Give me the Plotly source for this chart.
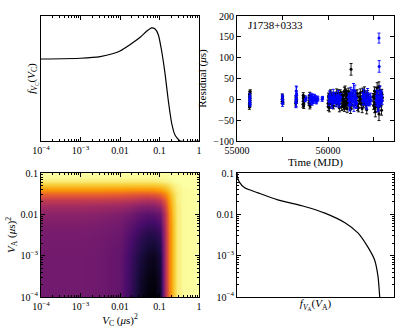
import numpy as np
import plotly.graph_objects as go

# ---------------- data ----------------
# top-left: f_VC(VC)
vc_vals = [1e-4, 1e-3, 3.16e-3, 6.8e-3, 0.01, 0.0178, 0.0324, 0.0479, 0.0631,
           0.0776, 0.0933, 0.112, 0.138, 0.166, 0.204, 0.245, 0.331, 1.0]
fvc_vals = [0.656, 0.662, 0.675, 0.70, 0.72, 0.77, 0.83, 0.88, 0.905,
            0.896, 0.85, 0.73, 0.54, 0.33, 0.14, 0.05, 0.0, 0.0]

# top-right: residuals
blk_mjd = [55138, 55140, 55141, 55143, 55145, 55139,
           55495, 55500, 55505,
           55645, 55650, 55655,
           55725, 55730, 55735, 55738,
           55790, 55795, 55800, 55810,
           56000, 56005, 56015, 56025, 56035, 56045, 56060, 56075, 56090, 56105, 56120, 56135,
           56150, 56160, 56170, 56180, 56190, 56200, 56210, 56220, 56230, 56240, 56253, 56262, 56270,
           56300, 56320, 56335, 56350, 56365, 56380, 56395, 56410, 56425, 56440,
           56500, 56510, 56520, 56530, 56540, 56550, 56560, 56570, 56580, 56590,
           56010, 56040, 56070, 56100, 56130, 56155, 56175, 56195, 56215, 56235, 56258,
           56310, 56330, 56360, 56390, 56430, 56505, 56525, 56545, 56565, 56585,
           56020, 56055, 56085, 56115, 56165, 56185, 56205, 56245, 56345, 56405, 56515, 56555, 56575,
           56003, 56028, 56048, 56068, 56095, 56125, 56145, 56168, 56188, 56208, 56228, 56248,
           56305, 56325, 56355, 56375, 56400, 56418, 56435, 56448, 56495, 56512, 56532, 56548, 56568, 56588, 56598,
           55136, 55142, 55498, 55728, 55733, 55798, 55805, 56180, 56200, 56520, 56560]
blk_res = [12, -15, 5, -3, 18, -8,
           -5, 3, -8,
           -10, 5, -4,
           -12, 2, -6, 4,
           -8, 3, -15, 6,
           -10, 8, -20, 12, -5, 3, -15, 10, -8, 5, -12, 15,
           -18, 8, -6, 20, -10, 4, -22, 12, -4, 7, 72, -14, 9,
           -8, 14, -20, 5, -12, 18, -6, 10, -25, 3,
           -15, 20, -30, 8, 28, -20, -35, 12, -8, 15,
           5, -8, 2, -4, 7, -3, 10, -14, 3, -9, 6,
           -3, 6, 0, -10, 8, 4, -10, 2, -5, 6,
           -4, 9, -2, 14, 2, -6, 12, -10, -4, 2, 10, -3, 6,
           -18, 14, -12, 6, 16, -20, 10, -16, 22, -8, 18, -24,
           12, -18, 16, -22, 20, -14, 12, -6, 6, -22, 18, -16, 22, -26, 4,
           -18, 14, 8, 10, -16, 10, -12, -20, 16, -8, 30]
blk_err = [6, 5, 4, 5, 5, 6,
           5, 4, 4,
           6, 5, 5,
           7, 5, 6, 5,
           6, 5, 8, 5,
           8, 7, 10, 8, 7, 9, 8, 7, 9, 7, 8, 8,
           9, 8, 7, 9, 8, 7, 10, 8, 7, 8, 14, 9, 8,
           8, 9, 10, 8, 8, 9, 7, 8, 10, 8,
           9, 10, 12, 9, 12, 10, 16, 9, 10, 9,
           8, 9, 8, 8, 9, 8, 9, 10, 8, 9, 8,
           8, 9, 8, 9, 8, 9, 10, 10, 9, 9,
           9, 8, 8, 9, 8, 8, 9, 9, 8, 8, 10, 12, 9,
           9, 9, 9, 8, 9, 10, 9, 9, 10, 8, 9, 10,
           9, 9, 9, 10, 10, 9, 9, 8, 8, 10, 10, 9, 10, 12, 8,
           6, 6, 5, 6, 6, 7, 7, 9, 9, 11, 12]

blu_mjd = [55140, 55142, 55144, 55141,
           55500, 55503, 55498,
           55650, 55652, 55648, 55655,
           55750, 55760,
           55800, 55815, 55830, 55845, 55860, 55875, 55890, 55935, 55940,
           56010, 56030, 56050, 56065, 56085, 56100, 56115, 56130,
           56225, 56240, 56250, 56262, 56275, 56285, 56295, 56305, 56315,
           56380, 56395, 56410, 56420, 56440, 56455, 56465,
           56530, 56545, 56555, 56560, 56562, 56565, 56575, 56585, 56595,
           56020, 56040, 56075, 56108, 56140, 56232, 56268, 56290, 56300, 56385, 56415, 56448, 56460,
           56538, 56550, 56570, 56580, 55805, 55822, 55838, 55852, 55868, 55882,
           55646, 55654, 55812, 55828, 55848, 55872, 56015, 56045, 56058, 56092, 56122,
           56236, 56256, 56280, 56310, 56390, 56425, 56435, 56470, 56535, 56548, 56590]
blu_res = [-5, 8, -12, 2,
           -10, 0, 6,
           20, -8, 0, 10,
           -2, 3,
           2, -4, 5, -2, 3, -3, 1, 0, 3,
           -5, 6, -2, 4, -8, 2, 10, -3,
           5, -12, 15, -5, 8, -15, 20, 2, -8,
           6, -4, 8, -10, 3, -6, 5,
           -3, 8, -12, 147, 79, 4, -6, 10, -2,
           3, -6, 0, -4, 5, -2, 3, -6, 6, -3, 2, -4, 1,
           2, -5, 18, 3, -3, 1, -2, 4, -1, 2,
           -6, 14, 6, -5, 4, -4, 8, -10, 12, 6, -8,
           -14, 10, 22, -10, 12, -12, 14, -2, 8, -16, 6]
blu_err = [6, 6, 5, 4,
           7, 8, 6,
           12, 10, 8, 10,
           4, 5,
           10, 8, 8, 7, 6, 6, 5, 5, 4,
           10, 12, 10, 12, 10, 9, 11, 10,
           10, 12, 14, 10, 12, 14, 14, 10, 12,
           10, 10, 12, 10, 10, 10, 10,
           12, 14, 14, 12, 14, 14, 12, 12, 10,
           10, 12, 10, 10, 9, 12, 12, 14, 12, 10, 10, 10, 10,
           12, 12, 14, 12, 9, 8, 8, 7, 7, 6,
           14, 16, 9, 9, 8, 7, 12, 12, 12, 11, 11,
           14, 14, 16, 12, 12, 12, 12, 10, 14, 14, 12]

# bottom-left: heatmap grid (colour level 0..1)
hm_vc = [1e-4, 1e-3, 3.16e-3, 0.01, 0.0178, 0.0316, 0.0501, 0.0708, 0.1,
         0.141, 0.178, 0.224, 0.282, 0.398, 1.0]
hm_va = [1e-4, 3.16e-4, 1e-3, 3.16e-3, 6.31e-3, 0.01, 0.0158, 0.0224, 0.0316,
         0.0398, 0.0501, 0.0631, 0.0794, 0.1]
hm_z = [
    [0.32, 0.32, 0.31, 0.28, 0.18, 0.06, 0.01, 0.00, 0.06, 0.45, 0.70, 0.85, 0.95, 0.99, 1.0],
    [0.32, 0.32, 0.31, 0.28, 0.19, 0.08, 0.03, 0.02, 0.08, 0.45, 0.70, 0.85, 0.95, 0.99, 1.0],
    [0.32, 0.32, 0.31, 0.28, 0.20, 0.11, 0.06, 0.05, 0.10, 0.45, 0.70, 0.85, 0.95, 0.99, 1.0],
    [0.33, 0.33, 0.32, 0.30, 0.24, 0.17, 0.13, 0.13, 0.17, 0.46, 0.70, 0.85, 0.95, 0.99, 1.0],
    [0.35, 0.35, 0.34, 0.32, 0.28, 0.23, 0.20, 0.20, 0.24, 0.48, 0.71, 0.85, 0.95, 0.99, 1.0],
    [0.38, 0.38, 0.37, 0.35, 0.32, 0.28, 0.26, 0.27, 0.30, 0.50, 0.72, 0.86, 0.95, 0.99, 1.0],
    [0.44, 0.44, 0.43, 0.42, 0.40, 0.37, 0.36, 0.37, 0.41, 0.56, 0.75, 0.87, 0.95, 0.99, 1.0],
    [0.52, 0.52, 0.52, 0.51, 0.50, 0.48, 0.47, 0.48, 0.52, 0.63, 0.78, 0.88, 0.96, 0.99, 1.0],
    [0.65, 0.65, 0.65, 0.64, 0.63, 0.62, 0.62, 0.63, 0.66, 0.73, 0.82, 0.90, 0.96, 0.99, 1.0],
    [0.76, 0.76, 0.76, 0.76, 0.75, 0.75, 0.75, 0.76, 0.78, 0.82, 0.87, 0.93, 0.97, 0.99, 1.0],
    [0.87, 0.87, 0.87, 0.87, 0.87, 0.87, 0.87, 0.87, 0.88, 0.90, 0.93, 0.96, 0.98, 1.0, 1.0],
    [0.95, 0.95, 0.95, 0.95, 0.95, 0.95, 0.95, 0.95, 0.96, 0.97, 0.98, 0.99, 1.0, 1.0, 1.0],
    [0.99, 0.99, 0.99, 0.99, 0.99, 0.99, 0.99, 0.99, 0.99, 0.99, 1.0, 1.0, 1.0, 1.0, 1.0],
    [1.0, 1.0, 1.0, 1.0, 1.0, 1.0, 1.0, 1.0, 1.0, 1.0, 1.0, 1.0, 1.0, 1.0, 1.0],
]

# bottom-right: f_VA(VA)
fva_vals = [0.0, 0.004, 0.015, 0.049, 0.134, 0.26, 0.43, 0.56, 0.69, 0.77, 0.83, 0.876, 0.898, 0.909]
va_vals = [0.1, 0.0759, 0.0603, 0.0437, 0.0331, 0.0224, 0.0155, 0.0107, 6.17e-3,
           3.55e-3, 1.70e-3, 7.94e-4, 3.16e-4, 1e-4]

log_ticks = [1e-4, 1e-3, 0.01, 0.1, 1]
log_ticktext = ["10<sup>−4</sup>", "10<sup>−3</sup>", "0.01", "0.1", "1"]
va_ticks = [1e-4, 1e-3, 0.01, 0.1]
va_ticktext = ["10<sup>−4</sup>", "10<sup>−3</sup>", "0.01", "0.1"]
res_ticks = [-100, -50, 0, 50, 100, 150, 200]
res_ticktext = ["−100", "−50", "0", "50", "100", "150", "200"]
mjd_ticks = [55000, 55500, 56000, 56500]
mjd_ticktext = ["55000", "", "56000", ""]

# ---------------- figure ----------------
FONT = "Liberation Serif"
W, H = 415, 332
xL = [41 / W, 199 / W]
xR = [237 / W, 394 / W]
yT = [(H - 141) / H, (H - 16) / H]
yB = [(H - 297) / H, (H - 173) / H]

minor_log = [k * 10.0 ** d for d in range(-4, 0) for k in range(2, 10)]

fig = go.Figure()

fig.add_trace(go.Scatter(x=vc_vals, y=fvc_vals, mode="lines", line=dict(color="black", width=1.2, shape="spline", smoothing=0.5),
                         xaxis="x", yaxis="y", showlegend=False))

for mjd, res, err, col in [(blk_mjd, blk_res, blk_err, "black"), (blu_mjd, blu_res, blu_err, "#0000ff")]:
    fig.add_trace(go.Scatter(x=mjd, y=res, mode="markers",
                             marker=dict(color=col, size=3),
                             error_y=dict(type="data", array=err, color=col, thickness=0.9, width=1.5),
                             xaxis="x2", yaxis="y2", showlegend=False))

fig.add_trace(go.Heatmap(x=np.log10(hm_vc), y=np.log10(hm_va), z=hm_z, colorscale="Inferno",
                         zmin=0, zmax=1, zsmooth="best", showscale=False,
                         xaxis="x3", yaxis="y3"))

fig.add_trace(go.Scatter(x=fva_vals, y=va_vals, mode="lines", line=dict(color="black", width=1.2, shape="spline", smoothing=0.6),
                         xaxis="x4", yaxis="y4", showlegend=False))

common = dict(showline=True, linecolor="black", linewidth=1, mirror="ticks", ticks="inside",
              tickcolor="black", showgrid=False, zeroline=False, automargin=False,
              tickfont=dict(family=FONT, size=10, color="black"))

minor_spec = dict(ticks="inside", ticklen=2, tickcolor="black", showgrid=False)

fig.update_layout(
    width=W, height=H, margin=dict(l=0, r=0, t=0, b=0),
    paper_bgcolor="white", plot_bgcolor="white",
    font=dict(family=FONT, size=10, color="black"),
    xaxis=dict(domain=xL, anchor="y", type="log", range=[-4, 0], tickvals=log_ticks, ticktext=log_ticktext,
               ticklen=4, minor=dict(tickvals=minor_log, **minor_spec), **common),
    yaxis=dict(domain=yT, anchor="x", range=[0, 1], showticklabels=False,
               title=dict(text="<i>f</i><sub><i>V</i><sub>C</sub></sub>(<i>V</i><sub>C</sub>)", standoff=2, font=dict(size=11)),
               **{**common, "ticks": ""}),
    xaxis2=dict(domain=xR, anchor="y2", range=[55000, 56725], tickvals=mjd_ticks, ticktext=mjd_ticktext, ticklen=4,
                title=dict(text="Time (MJD)", standoff=2, font=dict(size=11)), **common),
    yaxis2=dict(domain=yT, anchor="x2", range=[-100, 200], tickvals=res_ticks, ticktext=res_ticktext, ticklen=4,
                title=dict(text="Residual (<i>μ</i>s)", standoff=4, font=dict(size=11)), **common),
    xaxis3=dict(domain=xL, anchor="y3", range=[-4, 0], tickvals=np.log10(log_ticks), ticktext=log_ticktext, ticklen=4,
                minor=dict(tickvals=np.log10(minor_log), **minor_spec),
                title=dict(text="<i>V</i><sub>C</sub> (<i>μ</i>s)<sup>2</sup>", standoff=2, font=dict(size=11)), **common),
    yaxis3=dict(domain=yB, anchor="x3", range=[-4, -1], tickvals=np.log10(va_ticks), ticktext=va_ticktext, ticklen=4,
                minor=dict(tickvals=np.log10(minor_log[:24]), **minor_spec),
                title=dict(text="<i>V</i><sub>A</sub> (<i>μ</i>s)<sup>2</sup>", standoff=2, font=dict(size=11)), **common),
    xaxis4=dict(domain=xR, anchor="y4", range=[0, 1], showticklabels=False,
                title=dict(text="<i>f</i><sub><i>V</i><sub>A</sub></sub>(<i>V</i><sub>A</sub>)", standoff=2, font=dict(size=11)),
                **{**common, "ticks": ""}),
    yaxis4=dict(domain=yB, anchor="x4", type="log", range=[-4, -1], tickvals=va_ticks, ticktext=va_ticktext, ticklen=4,
                minor=dict(tickvals=minor_log[:24], **minor_spec), **common),
    annotations=[dict(text="J1738+0333", xref="paper", yref="paper", x=(246) / W, y=(H - 25) / H,
                      xanchor="left", yanchor="middle", showarrow=False, font=dict(family=FONT, size=11, color="black"))],
)

fig.write_html("out.html", config={"displayModeBar": False},
               post_script="document.body.style.margin='0';document.body.style.padding='0';")
